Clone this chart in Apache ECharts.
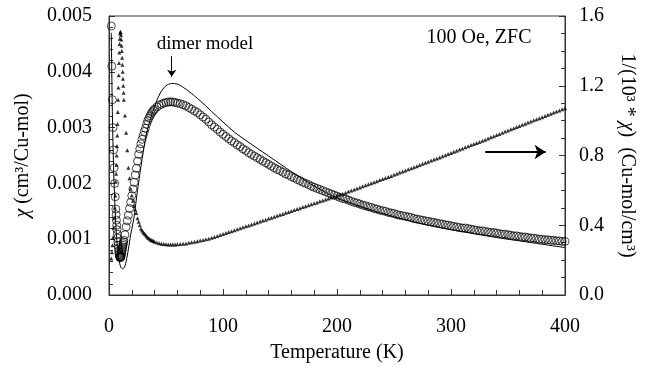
<!DOCTYPE html>
<html>
<head>
<meta charset="utf-8">
<script src="https://cdn.jsdelivr.net/npm/echarts@6/dist/echarts.min.js"></script>
<style>
  html, body { margin: 0; padding: 0; background: #fff; }
  #chart { width: 645px; height: 373px; }
</style>
</head>
<body>
<div id="chart"></div>
<script>
// temperature points of the measurement (K)
var temps = [2, 2.5, 3, 3.5, 4, 4.5, 5, 5.5,
  6, 6.25, 6.5, 6.75, 7, 7.25, 7.5, 7.75, 8, 8.25, 8.5, 8.75, 9, 9.25, 9.5, 9.75,
  10, 10.25, 10.5, 10.75, 11, 11.25, 11.5, 11.75, 12, 12.25, 12.5, 12.75,
  13, 14, 15, 16, 17, 18, 19, 20, 21, 22, 23, 24, 25, 26, 27, 28, 29, 30,
  31, 32, 33, 34, 35, 36, 37, 38, 39, 40, 42, 44, 46, 48, 50, 52, 54, 56, 58,
  60, 62.5, 65, 67.5, 70, 72.5, 75, 77.5, 80, 82.5, 85, 87.5, 90, 92.5, 95, 97.5,
  100, 102.5, 105, 107.5, 110, 112.5, 115, 117.5, 120, 122.5, 125, 127.5, 130, 132.5, 135, 137.5,
  140, 142.5, 145, 147.5, 150, 152.5, 155, 157.5, 160, 162.5, 165, 167.5, 170, 172.5, 175, 177.5,
  180, 182.5, 185, 187.5, 190, 192.5, 195, 197.5, 200, 202.5, 205, 207.5, 210, 212.5, 215, 217.5,
  220, 222.5, 225, 227.5, 230, 232.5, 235, 237.5, 240, 242.5, 245, 247.5, 250, 252.5, 255, 257.5,
  260, 262.5, 265, 267.5, 270, 272.5, 275, 277.5, 280, 282.5, 285, 287.5, 290, 292.5, 295, 297.5,
  300, 302.5, 305, 307.5, 310, 312.5, 315, 317.5, 320, 322.5, 325, 327.5, 330, 332.5, 335, 337.5,
  340, 342.5, 345, 347.5, 350, 352.5, 355, 357.5, 360, 362.5, 365, 367.5, 370, 372.5, 375, 377.5,
  380, 382.5, 385, 387.5, 390, 392.5, 395, 397.5, 400];

// chi (cm3/Cu-mol), open circles, left axis
var chiData = [0.00482, 0.0041, 0.0035, 0.0030, 0.0026, 0.00228, 0.0020, 0.00176,
  0.00154, 0.00144, 0.00134, 0.00125, 0.00117, 0.00109, 0.00102, 0.00095, 0.00089, 0.00084,
  0.00079, 0.00075, 0.00072, 0.0007, 0.00068, 0.00067,
  0.00067, 0.00068, 0.00069, 0.00071, 0.00074, 0.00077, 0.0008, 0.00083, 0.00086, 0.00089,
  0.00092, 0.00095,
  0.00098, 0.00108, 0.00122, 0.00133, 0.00143, 0.00155, 0.00166, 0.00178, 0.0019,
  0.00202, 0.00215, 0.00227, 0.0024, 0.00252, 0.00262, 0.00271, 0.00279, 0.00286,
  0.00293, 0.00299, 0.00306, 0.00312, 0.00317, 0.00321, 0.00325, 0.00328, 0.00331, 0.00333,
  0.00337, 0.0034, 0.00342, 0.00344, 0.00345, 0.00346, 0.00346, 0.00346, 0.00345,
  0.00344, 0.00343, 0.00341, 0.00339, 0.00336, 0.00333, 0.0033, 0.00327, 0.00323, 0.00319,
  0.00315, 0.0031, 0.00305, 0.00301, 0.00297, 0.00292,
  0.00288, 0.00284, 0.0028, 0.00276, 0.00273, 0.00269, 0.00266, 0.00262, 0.00259, 0.00255,
  0.00252, 0.00249, 0.00246, 0.00243, 0.0024, 0.00237,
  0.00234, 0.00231, 0.00228, 0.00225, 0.00223, 0.0022, 0.00217, 0.00215, 0.00212, 0.0021,
  0.00207, 0.00205, 0.00202, 0.002, 0.00198, 0.00195,
  0.00193, 0.00191, 0.00189, 0.00187, 0.00185, 0.00183, 0.00181, 0.00179, 0.00177, 0.00175,
  0.00173, 0.00172, 0.0017, 0.00168, 0.00166, 0.00165,
  0.00163, 0.00161, 0.0016, 0.00158, 0.00157, 0.00155, 0.00154, 0.00152, 0.00151, 0.0015,
  0.00148, 0.00147, 0.00146, 0.00144, 0.00143, 0.00142,
  0.00141, 0.0014, 0.00139, 0.00137, 0.00136, 0.00135, 0.00134, 0.00133, 0.00132, 0.00131,
  0.0013, 0.00129, 0.00128, 0.00127, 0.00126, 0.00125,
  0.00124, 0.00123, 0.00122, 0.00121, 0.0012, 0.0012, 0.00119, 0.00118, 0.00117, 0.00116,
  0.00115, 0.00115, 0.00114, 0.00113, 0.00112, 0.00112,
  0.00111, 0.0011, 0.00109, 0.00109, 0.00108, 0.00107, 0.00106, 0.00106, 0.00105, 0.00104,
  0.00104, 0.00103, 0.00102, 0.00102, 0.00101, 0.001,
  0.001, 0.00099, 0.00099, 0.00098, 0.00098, 0.00097, 0.00097, 0.00096, 0.00096];

// 1/(10^3 * chi) (Cu-mol/cm3), small triangles, right axis
var invChiData = [0.21, 0.245, 0.285, 0.33, 0.385, 0.44, 0.5, 0.57,
  0.65, 0.695, 0.745, 0.8, 0.855, 0.915, 0.98, 1.05, 1.12, 1.19, 1.26, 1.33, 1.39, 1.44, 1.47, 1.5,
  1.51, 1.505, 1.49, 1.465, 1.43, 1.4, 1.36, 1.32, 1.28, 1.24, 1.2, 1.16,
  1.12, 1.03, 0.93, 0.83, 0.73, 0.67, 0.61, 0.57, 0.54,
  0.51, 0.49, 0.47, 0.44, 0.42, 0.40, 0.38, 0.37, 0.36,
  0.352, 0.345, 0.337, 0.33, 0.325, 0.32, 0.316, 0.313, 0.309, 0.306,
  0.301, 0.297, 0.294, 0.292, 0.291, 0.29, 0.29, 0.29, 0.29,
  0.291, 0.292, 0.294, 0.296, 0.299, 0.302, 0.305, 0.308, 0.312, 0.315,
  0.319, 0.323, 0.328, 0.333, 0.338, 0.344,
  0.35, 0.355, 0.361, 0.366, 0.372, 0.377, 0.383, 0.388, 0.394, 0.399,
  0.405, 0.41, 0.416, 0.421, 0.427, 0.432,
  0.438, 0.443, 0.449, 0.454, 0.46, 0.465, 0.471, 0.476, 0.482, 0.487,
  0.493, 0.498, 0.504, 0.509, 0.515, 0.52,
  0.526, 0.531, 0.537, 0.542, 0.548, 0.553, 0.559, 0.564, 0.57, 0.576,
  0.581, 0.587, 0.593, 0.599, 0.605, 0.611,
  0.617, 0.623, 0.629, 0.635, 0.641, 0.647, 0.653, 0.659, 0.665, 0.671,
  0.677, 0.683, 0.689, 0.696, 0.702, 0.708,
  0.714, 0.721, 0.727, 0.733, 0.739, 0.746, 0.752, 0.758, 0.764, 0.771,
  0.777, 0.783, 0.789, 0.796, 0.802, 0.809,
  0.815, 0.821, 0.827, 0.834, 0.84, 0.847, 0.853, 0.86, 0.866, 0.872,
  0.878, 0.885, 0.891, 0.898, 0.904, 0.911,
  0.917, 0.924, 0.93, 0.937, 0.943, 0.95, 0.956, 0.963, 0.969, 0.976,
  0.982, 0.989, 0.995, 1.002, 1.008, 1.014,
  1.02, 1.027, 1.033, 1.04, 1.046, 1.052, 1.058, 1.065, 1.071];

// dimer model curve
var dimerT = [2, 3, 4, 5, 6, 7, 8, 9, 10, 11, 12, 13, 14, 15, 16, 17, 18, 19, 20, 22, 24, 26, 28, 30,
  33, 36, 40, 45, 50, 55, 60, 70, 80, 90, 100, 110, 120, 130, 140, 150, 160, 170, 180, 190, 200,
  220, 240, 260, 280, 300, 320, 340, 360, 380, 400];
var dimerChi = [0.0047, 0.0032, 0.0023, 0.0017, 0.00125, 0.00095, 0.00073, 0.0006, 0.00052, 0.00048,
  0.00047, 0.00048, 0.00052, 0.0006, 0.0007, 0.00082, 0.00095, 0.00108, 0.00118, 0.0014, 0.00172,
  0.00202, 0.0023, 0.00256, 0.0029, 0.00313, 0.00338, 0.00362, 0.00375, 0.00379, 0.00378, 0.00365,
  0.00348, 0.00329, 0.0031, 0.00292, 0.00277, 0.00263, 0.00249, 0.00235, 0.00221, 0.00208, 0.00195,
  0.00184, 0.00174, 0.00159, 0.00146, 0.00135, 0.00125, 0.00117, 0.0011, 0.00103, 0.00097,
  0.00091, 0.00085];

var xTicks = [0, 100, 200, 300, 400];

var FONT = '"Liberation Serif", "Times New Roman", serif';

function pairs(xs, ys) {
  return xs.map(function (x, i) { return [x, ys[i]]; });
}

var chart = echarts.init(document.getElementById('chart'), null, { renderer: 'canvas' });

var axisCommon = {
  axisLine: { show: true, lineStyle: { color: '#333', width: 1 } },
  axisTick: { show: true, inside: true, length: 6, lineStyle: { color: '#333' } },
  splitLine: { show: false },
  nameLocation: 'middle',
  nameTextStyle: {
    fontFamily: FONT, fontSize: 20, color: '#000',
    rich: { i: { fontFamily: FONT, fontSize: 20, fontStyle: 'italic', color: '#000' } }
  }
};

var option = {
  animation: false,
  backgroundColor: '#fff',
  grid: {
    left: 109, right: 77, top: 16, bottom: 78,
    show: true, borderColor: '#333', borderWidth: 1, backgroundColor: 'transparent'
  },
  xAxis: Object.assign({}, axisCommon, {
    type: 'value',
    min: xTicks[0], max: xTicks[xTicks.length - 1], interval: 100,
    minorTick: { show: true, splitNumber: 5, length: 5, lineStyle: { color: '#333' } },
    axisLabel: { fontFamily: FONT, fontSize: 20, color: '#000', margin: 22 },
    name: 'Temperature (K)',
    nameGap: 48
  }),
  yAxis: [
    Object.assign({}, axisCommon, {
      type: 'value', position: 'left',
      min: 0, max: 0.005, interval: 0.001,
      minorTick: { show: true, splitNumber: 5, length: 4, lineStyle: { color: '#333' } },
      axisLabel: {
        fontFamily: FONT, fontSize: 20, color: '#000', margin: 17,
        formatter: function (v) { return v.toFixed(3); }
      },
      name: '{i|χ} (cm³/Cu-mol)',
      nameGap: 76
    }),
    Object.assign({}, axisCommon, {
      type: 'value', position: 'right',
      min: 0, max: 1.6, interval: 0.4,
      minorTick: { show: true, splitNumber: 4, length: 4, lineStyle: { color: '#333' } },
      axisLabel: {
        fontFamily: FONT, fontSize: 20, color: '#000', margin: 14,
        formatter: function (v) { return v.toFixed(1); }
      },
      name: '1/(10³ * {i|χ})  (Cu-mol/cm³)',
      nameRotate: -90,
      nameGap: 52
    })
  ],
  graphic: [
    {
      type: 'text', x: 205, y: 44,
      style: { text: 'dimer model', font: '19px ' + FONT, fill: '#000', align: 'center', verticalAlign: 'middle' }
    },
    {
      type: 'text', x: 479, y: 38,
      style: { text: '100 Oe, ZFC', font: '20px ' + FONT, fill: '#000', align: 'center', verticalAlign: 'middle' }
    }
  ],
  series: [
    {
      name: 'dimer model',
      type: 'line',
      data: pairs(dimerT, dimerChi),
      smooth: 0.3,
      showSymbol: false,
      lineStyle: { color: '#000', width: 1 },
      z: 3,
      markLine: {
        silent: true,
        symbol: ['none', 'arrow'],
        symbolSize: 7,
        label: { show: false },
        lineStyle: { color: '#000', width: 1, type: 'solid' },
        data: [[{ coord: [55, 0.00428] }, { coord: [55, 0.00391] }]]
      }
    },
    {
      name: 'chi',
      type: 'scatter',
      data: pairs(temps, chiData),
      symbol: 'circle',
      symbolSize: 8,
      itemStyle: { color: 'rgba(0,0,0,0)', borderColor: '#000', borderWidth: 0.9 },
      z: 2
    },
    {
      name: '1/chi',
      type: 'scatter',
      yAxisIndex: 1,
      data: pairs(temps, invChiData),
      symbol: 'triangle',
      symbolSize: 4,
      itemStyle: { color: '#000' },
      z: 2,
      markLine: {
        silent: true,
        symbol: ['none', 'arrow'],
        symbolSize: 11,
        label: { show: false },
        lineStyle: { color: '#000', width: 2, type: 'solid' },
        data: [[{ coord: [330, 0.82] }, { coord: [383, 0.82] }]]
      }
    }
  ]
};

chart.setOption(option);
</script>
</body>
</html>
